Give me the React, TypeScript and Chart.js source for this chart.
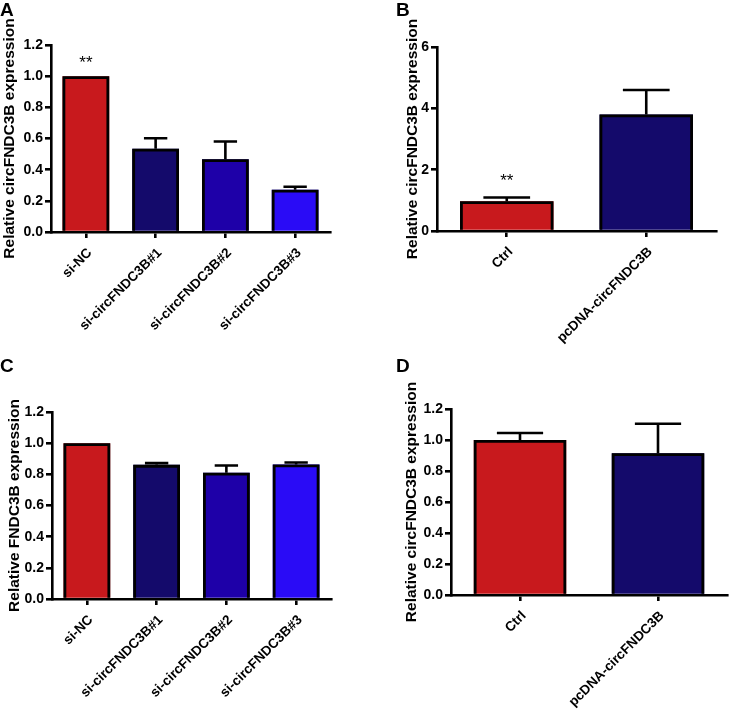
import React, { useEffect, useRef } from "react";
import { Chart, registerables } from "chart.js";
Chart.register(...registerables);

// ---------- data ----------
const catsSi = ["si-NC", "si-circFNDC3B#1", "si-circFNDC3B#2", "si-circFNDC3B#3"];
const catsOe = ["Ctrl", "pcDNA-circFNDC3B"];

const valuesA = [1.0, 0.535, 0.467, 0.271];
const errorsA = [0, 0.067, 0.114, 0.019];
const marksA = ["**", "", "", ""];

const valuesB = [0.97, 3.8];
const errorsB = [0.12, 0.8];
const marksB = ["**", ""];

const valuesC = [1.0, 0.861, 0.81, 0.863];
const errorsC = [0, 0.011, 0.047, 0.013];

const valuesD = [1.0, 0.915];
const errorsD = [0.045, 0.19];

const ticksFrac = [0, 0.2, 0.4, 0.6, 0.8, 1.0, 1.2];
const ticksB = [0, 2, 4, 6];

const colorsSi = ["#C8191D", "#140A6B", "#1E00A8", "#2A0BF6"];
const colorsOe = ["#C8191D", "#140A6B"];

const FONT = "'Liberation Sans', Arial, Helvetica, sans-serif";
const LW = 2.6;

const errPlugin = {
  id: "errBars",
  afterDatasetsDraw(chart: any, _args: any, opts: any) {
    const { ctx } = chart;
    const meta = chart.getDatasetMeta(0);
    const ys = chart.scales.y;
    const vals = chart.data.datasets[0].data as number[];
    const errs: number[] = opts.errors || [];
    const marks: string[] = opts.marks || [];
    ctx.save();
    ctx.strokeStyle = "#000";
    // bar outlines (inside the bar element's own bounds; bottom edge is the axis)
    const bw = 2.8;
    ctx.lineWidth = bw;
    ctx.lineJoin = "miter";
    meta.data.forEach((bar: any) => {
      const p = bar.getProps(["x", "y", "base", "width"], true);
      const l = p.x - p.width / 2 + bw / 2;
      const r = p.x + p.width / 2 - bw / 2;
      const t = p.y + bw / 2;
      ctx.beginPath();
      ctx.moveTo(l, p.base);
      ctx.lineTo(l, t);
      ctx.lineTo(r, t);
      ctx.lineTo(r, p.base);
      ctx.stroke();
    });
    // error bars
    ctx.lineWidth = LW;
    meta.data.forEach((bar: any, i: number) => {
      const e = errs[i];
      if (!e) return;
      const x = bar.x;
      const w = bar.width;
      const yTop = ys.getPixelForValue(vals[i] + e);
      const yBase = ys.getPixelForValue(vals[i]);
      ctx.beginPath();
      ctx.moveTo(x, yBase);
      ctx.lineTo(x, yTop);
      ctx.moveTo(x - w / 4, yTop);
      ctx.lineTo(x + w / 4, yTop);
      ctx.stroke();
    });
    ctx.fillStyle = "#000";
    ctx.textAlign = "center";
    ctx.textBaseline = "alphabetic";
    const fs = 17;
    ctx.font = `${fs}px ${FONT}`;
    meta.data.forEach((bar: any, i: number) => {
      const m = marks[i];
      if (!m) return;
      const yc = ys.getPixelForValue(opts.markAt);
      ctx.fillText(m, bar.x, yc + 0.57 * fs);
    });
    ctx.restore();
  },
};

type Cfg = {
  labels: string[];
  values: number[];
  errors: number[];
  marks?: string[];
  markAt?: number;
  colors: string[];
  ticks: number[];
  decimals: number;
  title: string;
  w: number;
  h: number;
  padLeft: number;
  axisX: number;
  right: number;
  top: number;
  bottom: number;
};

function makeChart(canvas: HTMLCanvasElement, c: Cfg) {
  const yWidth = c.axisX - c.padLeft;
  const xHeight = c.h - c.bottom;
  return new Chart(canvas, {
    type: "bar",
    data: {
      labels: c.labels,
      datasets: [
        {
          data: c.values,
          backgroundColor: c.colors,
          borderWidth: 0,
          borderSkipped: false,
          inflateAmount: 0,
          categoryPercentage: 1,
          barPercentage: 0.67,
        },
      ],
    },
    options: {
      responsive: false,
      animation: false,
      devicePixelRatio: 1,
      layout: { padding: { left: c.padLeft, top: c.top, right: c.w - c.right, bottom: 0 } },
      plugins: {
        legend: { display: false },
        tooltip: { enabled: false },
        errBars: { errors: c.errors, marks: c.marks || [], markAt: c.markAt },
      } as any,
      scales: {
        x: {
          offset: true,
          grid: { display: true, drawOnChartArea: false, drawTicks: true, tickLength: 6, offset: false, color: "#000", lineWidth: LW },
          border: { display: true, color: "#000", width: LW },
          ticks: {
            autoSkip: false,
            maxRotation: 45,
            minRotation: 45,
            padding: 7,
            labelOffset: 4,
            color: "#000",
            font: { family: FONT, size: 13.5, weight: "bold" },
          },
          afterFit: (s: any) => {
            s.height = xHeight;
          },
        },
        y: {
          min: 0,
          max: c.ticks[c.ticks.length - 1],
          grid: { display: true, drawOnChartArea: false, drawTicks: true, tickLength: 6, color: "#000", lineWidth: LW },
          border: { display: true, color: "#000", width: LW },
          afterBuildTicks: (s: any) => {
            s.ticks = c.ticks.map((v) => ({ value: v }));
          },
          ticks: {
            padding: 2,
            color: "#000",
            font: { family: FONT, size: 14, weight: "bold" },
            callback: (v: any) => Number(v).toFixed(c.decimals),
          },
          title: {
            display: true,
            text: c.title,
            color: "#000",
            padding: 0,
            font: { family: FONT, size: 15.5, weight: "bold" },
          },
          afterFit: (s: any) => {
            s.width = yWidth;
          },
        },
      },
    } as any,
    plugins: [errPlugin as any],
  });
}

const panels: { key: string; left: number; top: number; cfg: Cfg }[] = [
  {
    key: "A",
    left: 0,
    top: 0,
    cfg: {
      labels: catsSi, values: valuesA, errors: errorsA, marks: marksA, markAt: 1.117,
      colors: colorsSi, ticks: ticksFrac, decimals: 1,
      title: "Relative circFNDC3B expression",
      w: 366, h: 356, padLeft: 0, axisX: 51, right: 330, top: 45, bottom: 232,
    },
  },
  {
    key: "B",
    left: 366,
    top: 0,
    cfg: {
      labels: catsOe, values: valuesB, errors: errorsB, marks: marksB, markAt: 1.79,
      colors: colorsOe, ticks: ticksB, decimals: 0,
      title: "Relative circFNDC3B expression",
      w: 366, h: 356, padLeft: 37, axisX: 71, right: 350, top: 47, bottom: 231,
    },
  },
  {
    key: "C",
    left: 0,
    top: 356,
    cfg: {
      labels: catsSi, values: valuesC, errors: errorsC,
      colors: colorsSi, ticks: ticksFrac, decimals: 1,
      title: "Relative FNDC3B expression",
      w: 366, h: 356, padLeft: 5, axisX: 52, right: 331, top: 56, bottom: 243,
    },
  },
  {
    key: "D",
    left: 366,
    top: 356,
    cfg: {
      labels: catsOe, values: valuesD, errors: errorsD,
      colors: colorsOe, ticks: ticksFrac, decimals: 1,
      title: "Relative circFNDC3B expression",
      w: 366, h: 356, padLeft: 36.5, axisX: 85, right: 361, top: 53, bottom: 239,
    },
  },
];

const letterPos: Record<string, { x: number; y: number }> = {
  A: { x: 0, y: 0 },
  B: { x: 396, y: 0 },
  C: { x: 0, y: 356 },
  D: { x: 396, y: 356 },
};

function Panel({ cfg }: { cfg: Cfg }) {
  const ref = useRef<HTMLCanvasElement | null>(null);
  useEffect(() => {
    if (!ref.current) return;
    const ch = makeChart(ref.current, cfg);
    return () => ch.destroy();
  }, []);
  return <canvas ref={ref} width={cfg.w} height={cfg.h} style={{ width: cfg.w, height: cfg.h, display: "block" }} />;
}

export default function App() {
  return (
    <div style={{ position: "absolute", left: 0, top: 0, width: 732, height: 712, background: "#fff", overflow: "hidden" }}>
      {panels.map((p) => (
        <div key={p.key} style={{ position: "absolute", left: p.left, top: p.top, width: p.cfg.w, height: p.cfg.h }}>
          <Panel cfg={p.cfg} />
        </div>
      ))}
      {panels.map((p) => (
        <div
          key={"l" + p.key}
          style={{
            position: "absolute",
            left: letterPos[p.key].x,
            top: letterPos[p.key].y,
            fontFamily: FONT,
            fontWeight: "bold",
            fontSize: 19,
            lineHeight: "19px",
            color: "#000",
          }}
        >
          {p.key}
        </div>
      ))}
    </div>
  );
}
